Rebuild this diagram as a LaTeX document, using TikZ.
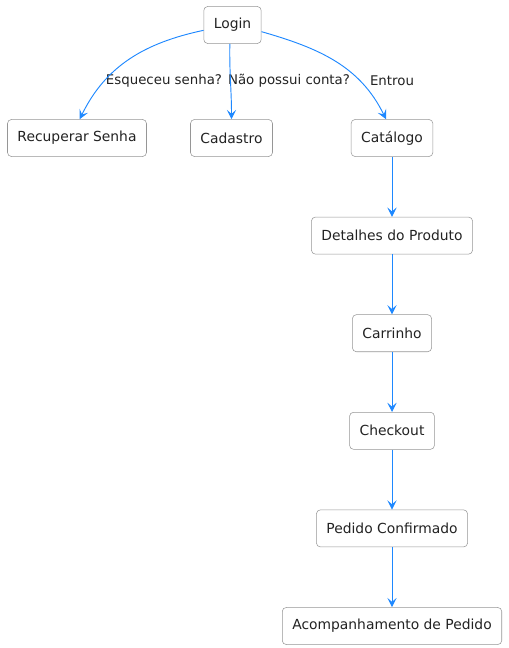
\documentclass[tikz,border=0pt]{standalone}
\usepackage{fontspec}
\setmainfont{DejaVu Sans}
\usetikzlibrary{positioning,arrows.meta}
\definecolor{flowblue}{RGB}{30,136,255}
\definecolor{boxgray}{RGB}{150,150,150}
\definecolor{txt}{RGB}{34,34,34}

\begin{document}
\begin{tikzpicture}[x=0.75pt,y=-0.75pt,
        state/.style={draw=boxgray,rounded corners=3pt,fill=white,text=txt,font=\fontsize{10.4}{12}\selectfont,minimum height=27.8pt,inner xsep=7.5pt},
        lbl/.style={text=txt,font=\fontsize{10}{12}\selectfont,inner sep=1pt},
        flow/.style={draw=flowblue,line width=0.7pt,-{Stealth[length=7pt,width=7pt,inset=3pt]}},
        node distance=45pt]
            \useasboundingbox (0,0) rectangle (508,648);
            \node[state] (login) at (232.5,25) {Login};
            \node[state] (recuperar) at (77,138) {Recuperar Senha};
            \node[state] (cadastro) at (231.5,138) {Cadastro};
            \node[state] (catalogo) at (392,138) {Catálogo};
            \node[state] (detalhes) [below=of catalogo] {Detalhes do Produto};
            \node[state] (carrinho) [below=of detalhes] {Carrinho};
            \node[state] (checkout) [below=of carrinho] {Checkout};
            \node[state] (confirmado) [below=of checkout] {Pedido Confirmado};
            \node[state] (acompanha) [below=of confirmado] {Acompanhamento de Pedido};

            \node[lbl] (esqueceu) at (164,81) {Esqueceu senha?};
            \node[lbl] (naoconta) at (289,81) {Não possui conta?};
            \node[lbl] (entrou) at (392,81) {Entrou};

            \draw[flow] ([yshift=-4pt]login.west) to[out=192,in=64] ([xshift=2pt]recuperar.north);
            \draw[flow] ([xshift=-2pt]login.south) to[out=-91,in=90] (cadastro.north);
            \draw[flow] ([yshift=-5pt]login.east) to[out=-16,in=116] ([xshift=-4.5pt]catalogo.north);
            \draw[flow] (catalogo) -- (detalhes);
            \draw[flow] (detalhes) -- (carrinho);
            \draw[flow] (carrinho) -- (checkout);
            \draw[flow] (checkout) -- (confirmado);
            \draw[flow] (confirmado) -- (acompanha);
        \end{tikzpicture}
\end{document}
